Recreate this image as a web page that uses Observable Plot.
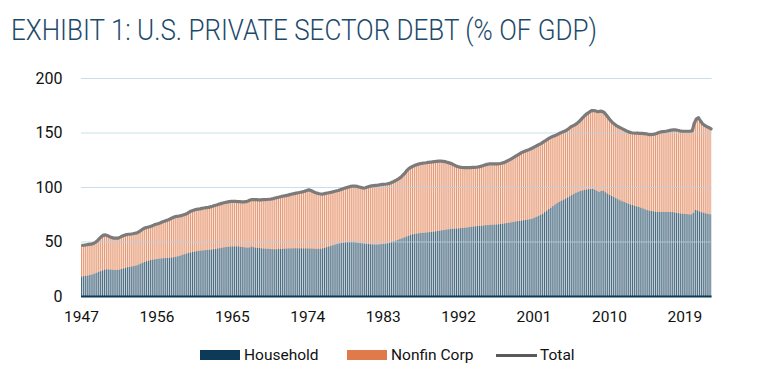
<!DOCTYPE html>
<html>
<head>
<meta charset="utf-8">
<script src="https://cdn.jsdelivr.net/npm/d3@7"></script>
<script src="https://cdn.jsdelivr.net/npm/@observablehq/plot@0.6"></script>
<style>
  html, body { margin: 0; padding: 0; background: #fff; width: 760px; height: 392px; overflow: hidden; }
  #title { position: absolute; left: 11px; top: 12px; font-family: Roboto, sans-serif; font-weight: 300; font-size: 30px; color: #1d4a6b; white-space: nowrap; transform-origin: 0 0; letter-spacing: 0; }
  #chart { position: absolute; left: 0; top: 55px; }
  #legend { position: absolute; top: 344px; left: 0; width: 760px; height: 22px; font-family: Roboto, sans-serif; font-size: 15.5px; color: #111; }
  .item { position: absolute; top: 0; display: flex; align-items: center; height: 22px; white-space: nowrap; }
  .sw { display: inline-block; width: 40px; height: 10px; margin-right: 4px; }
  .ln { display: inline-block; width: 41px; height: 3px; margin-right: 3px; background: #5a5a5a; }
</style>
</head>
<body>
<div id="title">EXHIBIT 1: U.S. PRIVATE SECTOR DEBT (% OF GDP)</div>
<div id="chart"></div>
<div id="legend"></div>
<script>
// Quarterly data, 1947 Q1 onward (% of GDP)
const startYear = 1947;
const household = [
  18.0, 18.2, 18.5, 18.8,  19.3, 19.8, 20.5, 21.3,  22.0, 22.8, 23.6, 24.3,  24.5, 24.4, 24.2, 24.0, // 1947-50
  23.9, 23.9, 24.2, 24.8,  25.4, 26.0, 26.5, 26.9,  27.2, 27.5, 28.0, 28.8,  29.6, 30.4, 31.2, 32.0, // 1951-54
  32.5, 33.0, 33.4, 33.7,  34.0, 34.3, 34.5, 34.7,  34.9, 35.0, 35.2, 35.4,  35.6, 36.0, 36.5, 37.0, // 1955-58
  37.6, 38.3, 39.0, 39.6,  40.0, 40.4, 40.8, 41.2,  41.5, 41.7, 41.9, 42.1,  42.3, 42.5, 42.7, 43.0, // 1959-62
  43.3, 43.6, 43.9, 44.3,  44.7, 45.0, 45.2, 45.4,  45.5, 45.6, 45.6, 45.5,  45.2, 44.9, 44.6, 44.4, // 1963-66
  44.5, 45.4, 44.8, 44.4,  44.2, 44.0, 43.8, 43.6,  43.4, 43.3, 43.1, 43.0,  42.9, 43.0, 43.2, 43.3, // 1967-70
  43.4, 43.5, 43.6, 43.7,  43.7, 43.8, 43.8, 43.8,  43.8, 43.8, 43.7, 43.7,  43.7, 43.6, 43.5, 43.4, // 1971-74
  43.3, 43.3, 43.4, 43.8,  44.3, 44.9, 45.5, 46.1,  46.6, 47.2, 47.8, 48.3,  48.7, 49.1, 49.4, 49.6, // 1975-78
  49.7, 49.7, 49.5, 49.2,  48.9, 48.6, 48.3, 48.1,  47.9, 47.7, 47.5, 47.4,  47.3, 47.3, 47.4, 47.6, // 1979-82
  47.8, 48.0, 48.4, 48.9,  49.5, 50.2, 50.9, 51.6,  52.3, 53.0, 53.8, 54.6,  55.4, 56.2, 56.7, 57.0, // 1983-86
  57.3, 57.6, 57.8, 58.0,  58.2, 58.4, 58.6, 58.8,  59.1, 59.4, 59.7, 60.0,  60.3, 60.6, 60.9, 61.2, // 1987-90
  61.5, 61.7, 61.9, 62.0,  62.1, 62.3, 62.5, 62.7,  62.9, 63.2, 63.5, 63.8,  64.0, 64.2, 64.4, 64.6, // 1991-94
  64.8, 65.0, 65.1, 65.3,  65.4, 65.5, 65.7, 65.9,  66.1, 66.4, 66.7, 67.0,  67.3, 67.6, 67.9, 68.3, // 1995-98
  68.7, 69.0, 69.3, 69.6,  69.9, 70.2, 70.5, 71.0,  71.8, 72.6, 73.4, 74.4,  75.6, 77.0, 78.4, 79.8, // 1999-02
  81.0, 82.5, 84.0, 85.3,  86.5, 87.5, 88.5, 89.5,  90.5, 91.5, 92.6, 93.7,  94.8, 95.6, 96.3, 96.9, // 2003-06
  97.4, 97.8, 98.0, 98.2,  98.3, 97.5, 96.3, 95.5,  96.4, 96.6, 95.2, 94.0,  92.8, 91.8, 90.8, 89.8, // 2007-10
  88.8, 87.8, 87.0, 86.2,  85.4, 84.6, 84.0, 83.4,  82.8, 82.2, 81.7, 81.0,  80.3, 79.5, 78.8, 78.3, // 2011-14
  78.0, 77.7, 77.4, 77.2,  77.1, 77.1, 77.1, 77.1,  77.1, 77.1, 77.0, 76.7,  76.4, 76.0, 75.7, 75.5, // 2015-18
  75.3, 75.1, 74.9, 74.9,  76.5, 79.0, 78.5, 77.6,  76.8, 76.3, 75.8, 75.3,  75.0                    // 2019-22
];
const total = [
  47.0, 47.2, 47.5, 47.8,  48.0, 48.5, 49.5, 51.0,  53.0, 55.0, 56.3, 56.5,  55.8, 54.8, 54.0, 53.6, // 1947-50
  53.5, 53.6, 54.5, 55.5,  56.2, 56.8, 57.1, 57.3,  57.6, 58.0, 58.4, 59.5,  60.8, 62.2, 63.0, 63.5, // 1951-54
  64.0, 64.7, 65.5, 66.2,  66.8, 67.5, 68.3, 69.0,  69.8, 70.5, 71.3, 72.3,  73.2, 73.5, 73.8, 74.2, // 1955-58
  74.8, 75.4, 76.2, 77.5,  78.5, 79.2, 79.8, 80.2,  80.4, 80.8, 81.2, 81.5,  81.8, 82.2, 82.8, 83.5, // 1959-62
  84.0, 84.6, 85.2, 85.8,  86.2, 86.6, 87.0, 87.2,  87.3, 87.2, 87.1, 87.0,  86.9, 86.8, 87.0, 87.6, // 1963-66
  88.5, 89.0, 88.9, 88.8,  88.7, 88.7, 88.8, 88.9,  89.0, 89.2, 89.4, 89.8,  90.3, 90.8, 91.3, 91.8, // 1967-70
  92.2, 92.6, 93.0, 93.5,  94.0, 94.4, 94.8, 95.2,  95.6, 96.0, 96.5, 97.3,  97.8, 97.2, 96.3, 95.5, // 1971-74
  94.8, 94.3, 94.0, 94.2,  94.6, 95.0, 95.4, 95.8,  96.3, 96.8, 97.3, 98.0,  98.7, 99.3, 99.9, 100.5, // 1975-78
  101.0, 101.2, 101.3, 101.0,  100.5, 100.0, 99.5, 99.8,  100.5, 101.0, 101.5, 101.8,  102.0, 102.2, 102.5, 102.8, // 1979-82
  103.0, 103.2, 103.5, 104.2,  105.0, 106.0, 107.0, 108.2,  109.5, 111.5, 113.5, 116.0,  117.8, 118.8, 119.8, 120.6, // 1983-86
  121.2, 121.8, 122.2, 122.5,  122.7, 123.0, 123.2, 123.5,  123.8, 124.0, 124.2, 124.3,  124.0, 123.7, 123.2, 122.6, // 1987-90
  122.0, 121.0, 120.0, 119.2,  118.7, 118.4, 118.3, 118.3,  118.3, 118.3, 118.4, 118.5,  118.6, 118.9, 119.4, 120.0, // 1991-94
  120.6, 121.2, 121.6, 121.7,  121.7, 121.6, 121.6, 121.8,  122.2, 122.8, 123.6, 124.6,  125.6, 126.6, 127.8, 129.0, // 1995-98
  130.2, 131.4, 132.4, 133.2,  134.0, 134.7, 135.5, 136.5,  137.5, 138.5, 139.5, 140.5,  141.8, 143.0, 144.3, 145.5, // 1999-02
  146.5, 147.3, 148.0, 149.0,  150.0, 150.8, 151.5, 152.5,  154.0, 155.5, 156.5, 157.5,  158.8, 160.5, 162.5, 164.5, // 2003-06
  166.5, 168.0, 169.3, 170.5,  170.6, 170.2, 169.5, 170.0,  169.8, 168.8, 166.5, 164.0,  161.5, 159.5, 158.0, 156.5, // 2007-10
  155.5, 154.5, 153.5, 152.5,  151.5, 150.8, 150.2, 150.0,  149.8, 149.8, 149.7, 149.7,  149.5, 149.2, 148.8, 148.5, // 2011-14
  148.6, 149.0, 149.6, 150.4,  151.0, 151.3, 151.5, 151.8,  152.2, 152.6, 152.8, 152.8,  152.5, 152.0, 151.7, 151.6, // 2015-18
  151.6, 151.6, 151.7, 152.0,  159.0, 163.0, 164.0, 161.0,  158.3, 157.0, 155.8, 155.0,  153.8                        // 2019-22
];
const xTickYears = [1947, 1956, 1965, 1974, 1983, 1992, 2001, 2010, 2019];
const yTicks = [0, 50, 100, 150, 200];
const seriesNames = ["Household", "Nonfin Corp", "Total"];
const colors = {household: "#0d3a57", nonfin: "#e07a4b", total: "#7b7b7b"};

const rows = household.map((h, i) => ({t: startYear + i / 4, household: h, total: total[i]}));

const chart = Plot.plot({
  width: 760,
  height: 271,
  marginLeft: 81,
  marginRight: 48.4,
  marginTop: 23,
  marginBottom: 30,
  style: {fontFamily: "Roboto, sans-serif", fontSize: "15px", color: "#111", background: "transparent"},
  x: {domain: [1947, 2022.25], axis: null},
  y: {domain: [0, 200], axis: null},
  marks: [
    // pale fill layer
    Plot.rectY(rows, {x1: "t", x2: d => d.t + 0.25, y1: 0, y2: "household", fill: colors.household, fillOpacity: 0.24}),
    Plot.rectY(rows, {x1: "t", x2: d => d.t + 0.25, y1: "household", y2: "total", fill: colors.nonfin, fillOpacity: 0.22}),
    // stripes
    Plot.rectY(rows, {x1: "t", x2: d => d.t + 0.25, y1: 0, y2: "household", fill: colors.household, fillOpacity: 0.68, insetRight: 1.1}),
    Plot.rectY(rows, {x1: "t", x2: d => d.t + 0.25, y1: "household", y2: "total", fill: colors.nonfin, fillOpacity: 0.72, insetRight: 1.1}),
    // gridlines over bars
    Plot.ruleY(yTicks.filter(v => v > 0), {stroke: "#b7d2e6", strokeWidth: 1.2, strokeOpacity: 0.75}),
    Plot.ruleY([0], {stroke: "#0d3a57", strokeWidth: 2}),
    Plot.lineY(rows, {x: d => d.t + 0.125, y: "total", stroke: colors.total, strokeWidth: 3.2, curve: "linear"}),
    Plot.axisY(yTicks, {anchor: "left", tickSize: 0, tickPadding: 19, fontSize: 16, label: null}),
    Plot.axisX(xTickYears, {anchor: "bottom", tickSize: 0, tickPadding: 14, fontSize: 15.5, tickFormat: d => String(d), label: null})
  ]
});
document.getElementById("chart").appendChild(chart);

// legend
const legend = document.getElementById("legend");
const items = [
  {name: seriesNames[0], left: 200, kind: "sw", color: colors.household},
  {name: seriesNames[1], left: 347, kind: "sw", color: colors.nonfin},
  {name: seriesNames[2], left: 496, kind: "ln", color: "#5a5a5a"}
];
for (const it of items) {
  const div = document.createElement("div");
  div.className = "item";
  div.style.left = it.left + "px";
  const s = document.createElement("span");
  s.className = it.kind;
  s.style.background = it.color;
  div.appendChild(s);
  const t = document.createElement("span");
  t.textContent = it.name;
  div.appendChild(t);
  legend.appendChild(div);
}

// condense title to the reference width
const title = document.getElementById("title");
const w = title.getBoundingClientRect().width;
title.style.transform = `scaleX(${586 / w})`;
</script>
</body>
</html>
